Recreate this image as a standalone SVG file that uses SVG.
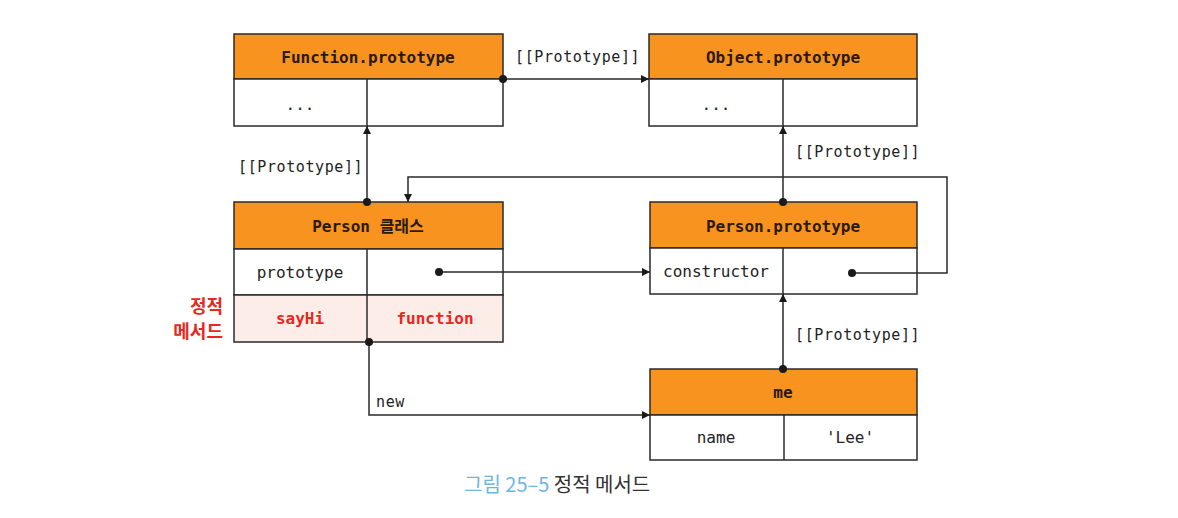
<svg xmlns="http://www.w3.org/2000/svg" width="1178" height="518" viewBox="0 0 1178 518">
<style>
.box{fill:#fff;stroke:#2a2a2a;stroke-width:1.5}
.hdr{fill:#F7931E;stroke:#2a2a2a;stroke-width:1.5}
.pink{fill:#FCEDE8;stroke:#2a2a2a;stroke-width:1.5}
.ln{fill:none;stroke:#2a2a2a;stroke-width:1.5}
.ht{font-family:"DejaVu Sans Mono","Noto Sans CJK KR",monospace;font-size:16px;font-weight:bold;fill:#2a1a10;text-anchor:middle;dominant-baseline:central}
.t{font-family:"DejaVu Sans Mono","Noto Sans CJK KR",monospace;font-size:16px;fill:#222;text-anchor:middle;dominant-baseline:central}
.lbl{font-family:"DejaVu Sans Mono",monospace;font-size:15px;letter-spacing:0.6px;fill:#222;dominant-baseline:central}
.rt{font-family:"DejaVu Sans Mono","Noto Sans CJK KR",monospace;font-size:16px;font-weight:bold;fill:#E8281E;text-anchor:middle;dominant-baseline:central}
.side{font-family:"Noto Sans CJK KR",sans-serif;font-size:18px;font-weight:bold;fill:#E8281E;text-anchor:end;dominant-baseline:central}
.dot{fill:#1a1a1a}
</style>
<defs>
<marker id="ah" viewBox="0 0 10 10" refX="10" refY="5" markerWidth="8" markerHeight="8" markerUnits="userSpaceOnUse" orient="auto">
<path d="M0,0 L10,5 L0,10 z" fill="#1a1a1a"/>
</marker>
</defs>

<g id="function-prototype">
<rect class="hdr" x="234" y="34" width="269" height="45"/>
<rect class="box" x="234" y="79" width="269" height="47"/>
<line class="ln" x1="367" y1="79" x2="367" y2="126"/>
<text class="ht" x="368" y="57">Function.prototype</text>
<text class="t" x="300" y="104">...</text>
</g>

<g id="object-prototype">
<rect class="hdr" x="649" y="34" width="268" height="45"/>
<rect class="box" x="649" y="79" width="268" height="47"/>
<line class="ln" x1="783" y1="79" x2="783" y2="126"/>
<text class="ht" x="783" y="57">Object.prototype</text>
<text class="t" x="716" y="104">...</text>
</g>

<g id="person-class">
<rect class="hdr" x="234" y="202" width="269" height="47"/>
<rect class="box" x="234" y="249" width="269" height="46"/>
<rect class="pink" x="234" y="295" width="269" height="47"/>
<line class="ln" x1="367" y1="249" x2="367" y2="342"/>
<text class="ht" x="368" y="226">Person 클래스</text>
<text class="t" x="300" y="272">prototype</text>
<text class="rt" x="300" y="318">sayHi</text>
<text class="rt" x="435" y="318">function</text>
<text class="side" x="223" y="305">정적</text>
<text class="side" x="223" y="330">메서드</text>
</g>

<g id="person-prototype">
<rect class="hdr" x="650" y="202" width="267" height="46"/>
<rect class="box" x="650" y="248" width="267" height="46"/>
<line class="ln" x1="783" y1="248" x2="783" y2="294"/>
<text class="ht" x="783" y="226">Person.prototype</text>
<text class="t" x="716" y="271">constructor</text>
</g>

<g id="me">
<rect class="hdr" x="650" y="369" width="267" height="46"/>
<rect class="box" x="650" y="415" width="267" height="45"/>
<line class="ln" x1="784" y1="415" x2="784" y2="460"/>
<text class="ht" x="783" y="392">me</text>
<text class="t" x="716" y="437">name</text>
<text class="t" x="850" y="437">'Lee'</text>
</g>

<g id="connectors">
<line class="ln" x1="503" y1="79" x2="649" y2="79" marker-end="url(#ah)"/>
<circle class="dot" cx="503" cy="79" r="4"/>
<text class="lbl" x="515" y="57">[[Prototype]]</text>

<line class="ln" x1="367" y1="202" x2="367" y2="126" marker-end="url(#ah)"/>
<circle class="dot" cx="367" cy="202" r="4"/>
<text class="lbl" x="238" y="167">[[Prototype]]</text>

<line class="ln" x1="783" y1="202" x2="783" y2="126" marker-end="url(#ah)"/>
<circle class="dot" cx="783" cy="202" r="4"/>
<text class="lbl" x="795" y="152">[[Prototype]]</text>

<line class="ln" x1="439" y1="272" x2="650" y2="272" marker-end="url(#ah)"/>
<circle class="dot" cx="439" cy="272" r="4"/>

<polyline class="ln" points="852,273 947,273 947,177 408,177 408,202" marker-end="url(#ah)"/>
<circle class="dot" cx="852" cy="273" r="4"/>

<line class="ln" x1="783" y1="369" x2="783" y2="294" marker-end="url(#ah)"/>
<circle class="dot" cx="783" cy="369" r="4"/>
<text class="lbl" x="795" y="335">[[Prototype]]</text>

<polyline class="ln" points="369,342 369,415 650,415" marker-end="url(#ah)"/>
<circle class="dot" cx="369" cy="342" r="4"/>
<text class="lbl" x="376" y="402">new</text>
</g>

<text x="464" y="492" font-family="'Noto Sans CJK KR',sans-serif" font-size="20"><tspan fill="#6DB6E2">그림 25–5</tspan><tspan fill="#333"> 정적 메서드</tspan></text>
</svg>
